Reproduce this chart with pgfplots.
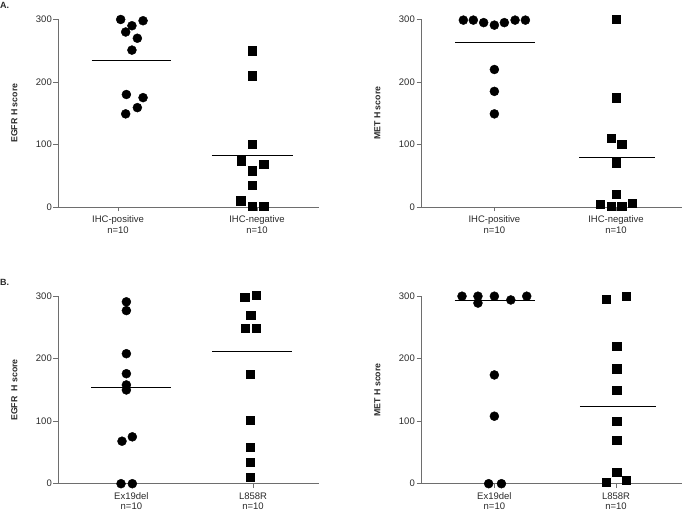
\documentclass[border=0pt]{standalone}
\usepackage{pgfplots}
\pgfplotsset{compat=1.18}
\usepackage{fontspec}
\setmainfont{Liberation Sans}
\definecolor{axgray}{HTML}{6E6E6E}
\definecolor{txt}{HTML}{2A2A2A}
\pgfplotsset{
  gp/.style={
    scale only axis, width=261pt, height=187.5pt,
    axis x line=bottom, axis y line=left,
    axis line style={draw=axgray, line width=0.8pt, -},
    ymin=0, ymax=300, ytick={0,100,200,300},
    xtick={0,1},
    tick align=outside, tick pos=left,
    major tick length=4.5pt,
    every tick/.style={draw=axgray, line width=0.8pt},
    clip=false,
    tick label style={font=\fontsize{9.5}{10.5}\selectfont, text=txt},
    xticklabel style={align=center, inner sep=1.5pt, yshift=-2.5pt},
    yticklabel style={inner sep=1.5pt},
    /pgf/number format/assume math mode=true,
    every axis y label/.style={at={(axis description cs:-0.167,0.5)}, rotate=90, anchor=center,
      font=\fontsize{8.8}{10}\selectfont\bfseries, text=txt},
  },
  circ/.style={only marks, mark=*, mark size=4.5pt, mark options={draw=black, fill=black}, color=black},
  sq/.style={only marks, mark=square*, mark size=4.1pt, mark options={draw=black, fill=black}, color=black},
  med/.style={black, line width=1.1pt, no marks},
}
\begin{document}
\begin{tikzpicture}[x=1pt,y=1pt]
\useasboundingbox (0,0) rectangle (682,514);
\node[anchor=north west, inner sep=0pt, font=\fontsize{9}{10}\selectfont\bfseries, text=txt] at (0,512) {A.};
\node[anchor=north west, inner sep=0pt, font=\fontsize{9}{10}\selectfont\bfseries, text=txt] at (0,235) {B.};

% Panel A left
\begin{axis}[gp, at={(58pt,307pt)}, anchor=south west, xmin=-0.432, xmax=1.446,
  xticklabels={IHC-positive\\n=10, IHC-negative\\n=10}, ylabel={EGFR H score}]
\addplot[circ] coordinates {(0.019,300) (0.18,298) (0.10,290) (0.055,280) (0.139,270) (0.10,251) (0.06,180) (0.18,175) (0.139,159) (0.055,149)};
\addplot[sq] coordinates {(0.964,250) (0.964,210) (0.964,101) (0.885,74) (1.048,69) (0.966,58) (0.966,35) (0.882,10) (0.966,1) (1.048,1)};
\addplot[med] coordinates {(-0.19,235) (0.384,235)};
\addplot[med] coordinates {(0.676,82) (1.259,82)};
\end{axis}

% Panel A right
\begin{axis}[gp, at={(421pt,307pt)}, anchor=south west, xmin=-0.603, xmax=1.542,
  xticklabels={IHC-positive\\n=10, IHC-negative\\n=10}, ylabel={MET H score}]
\addplot[circ] coordinates {(-0.255,299) (-0.173,299) (-0.088,295) (0,291) (0.082,295) (0.17,299) (0.255,299) (0,220) (0,185) (0,149)};
\addplot[sq] coordinates {(1,300) (1,175) (0.959,110) (1.047,101) (1,71) (1,20) (0.871,5) (0.959,1) (1.047,1) (1.134,6)};
\addplot[med] coordinates {(-0.323,263.5) (0.33,263.5)};
\addplot[med] coordinates {(0.699,79) (1.323,79)};
\end{axis}

% Panel B left
\begin{axis}[gp, at={(58pt,30.3pt)}, anchor=south west, xmin=-0.603, xmax=1.542,
  xticklabels={Ex19del\\n=10, L858R\\n=10}, ylabel={EGFR\ \ H score}]
\addplot[circ] coordinates {(-0.041,291) (-0.041,277) (-0.041,208) (-0.041,176) (-0.041,158) (-0.041,150) (-0.077,68) (0.008,75) (-0.085,0) (0.008,0)};
\addplot[sq] coordinates {(0.932,298) (1.027,301) (0.981,269) (0.937,249) (1.027,249) (0.978,175) (0.978,102) (0.978,59) (0.978,35) (0.978,10)};
\addplot[med] coordinates {(-0.329,154) (0.329,154)};
\addplot[med] coordinates {(0.666,212) (1.323,212)};
\end{axis}

% Panel B right
\begin{axis}[gp, at={(421pt,30.3pt)}, anchor=south west, xmin=-0.603, xmax=1.542,
  xticklabels={Ex19del\\n=10, L858R\\n=10}, ylabel={MET H score}]
\addplot[circ] coordinates {(-0.266,300) (-0.135,300) (-0.135,289) (0,300) (0.135,294) (0.266,300) (0,174) (0,108) (-0.047,0) (0.058,0)};
\addplot[sq] coordinates {(0.92,295) (1.085,300) (1.005,220) (1.005,184) (1.005,149) (1.005,100) (1.005,69) (1.005,18) (0.92,2) (1.085,5)};
\addplot[med] coordinates {(-0.327,293) (0.332,293)};
\addplot[med] coordinates {(0.703,124) (1.33,124)};
\end{axis}
\end{tikzpicture}
\end{document}
